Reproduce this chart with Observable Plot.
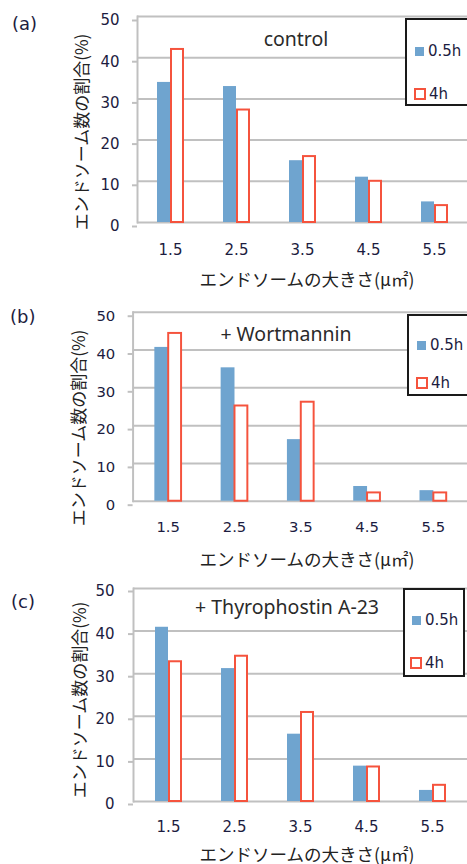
<!DOCTYPE html>
<html>
<head>
<meta charset="utf-8">
<script src="https://cdn.jsdelivr.net/npm/d3@7"></script>
<script src="https://cdn.jsdelivr.net/npm/@observablehq/plot@0.6"></script>
<style>
  html, body { margin: 0; padding: 0; background: #fff; }
  body { width: 467px; height: 864px; overflow: hidden; position: relative; }
  .panel { position: absolute; left: 0; width: 467px; overflow: hidden; }
  .panel svg { position: absolute; left: 0; top: 0; }
  .abs { position: absolute; white-space: nowrap; }
  .plabel { font-family: "DejaVu Sans", sans-serif; font-size: 18px; color: #1c1c40; transform: translateY(-50%); }
  .ylab { font-family: "Noto Sans CJK JP", sans-serif; font-size: 17px; color: #222; transform: translate(-50%, -50%) rotate(-90deg); }
  .xlab { font-family: "Noto Sans CJK JP", sans-serif; font-size: 17.5px; color: #222; transform: translate(-50%, -50%); }
  .title { font-family: "Noto Sans", sans-serif; font-weight: 400; font-size: 19.5px; color: #2a2a2a; transform: translate(-50%, -50%); }
  .legend { border: 2px solid #1a1a1a; background: #fff; box-sizing: border-box; }
  .legend .item { position: absolute; font-family: "DejaVu Sans", sans-serif; font-size: 15px; color: #1c1c40; display: flex; align-items: center; }
  .sw-blue { display: inline-block; width: 9px; height: 9px; background: #6fa4cf; margin-right: 4px; }
  .sw-red { display: inline-block; width: 8px; height: 8px; border: 2px solid #f5533d; background: #fff; margin-right: 3px; }
  g[aria-label="y-axis tick"] { stroke: #c0c0c0; stroke-width: 2px; }
</style>
</head>
<body>
<script>
// ---- data ----
const sizes = ["1.5", "2.5", "3.5", "4.5", "5.5"];
const seriesNames = ["0.5h", "4h"];
const yTicks = [0, 10, 20, 30, 40, 50];
const panelLabels = ["(a)", "(b)", "(c)"];
const panelTitles = ["control", "+ Wortmannin", "+ Thyrophostin A-23"];
const xTitle = "エンドソームの大きさ(μ㎡)";
const yTitle = "エンドソーム数の割合(%)";
const controlHalf = [34, 33, 15, 11, 5];
const controlFour = [42, 27.3, 16, 10, 4.1];
const wortHalf = [40.7, 35.3, 16.3, 3.9, 2.8];
const wortFour = [44.4, 25.2, 26.2, 2.2, 2.2];
const thyroHalf = [40.9, 31.2, 15.8, 8.3, 2.6];
const thyroFour = [32.8, 34.1, 20.9, 8.1, 3.8];

const blue = "#6fa4cf";
const red = "#f5533d";

// ---- layout per panel ----
const panels = [
  { half: controlHalf, four: controlFour, top: 0, height: 290, mt: 16, mb: 68, ml: 137, width: 467,
    tickPadX: 22, tickPadY: 13, dyY: 4,
    label: [12, 23], ylab: [80, 132], xlab: [307, 278], title: [296, 38],
    legend: { left: 405, top: 18, width: 70, height: 88, i1: [8, 22], i2: [7, 65] } },
  { half: wortHalf, four: wortFour, top: 290, height: 285, mt: 22, mb: 72, ml: 134, width: 472,
    tickPadX: 20, tickPadY: 13, dyY: 4,
    label: [10, 26], ylab: [77, 138], xlab: [307, 268], title: [286, 43],
    legend: { left: 407, top: 24, width: 70, height: 82, i1: [8, 20], i2: [7, 58] } },
  { half: thyroHalf, four: thyroFour, top: 575, height: 289, mt: 13, mb: 63, ml: 133, width: 467,
    tickPadX: 20, tickPadY: 14, dyY: 3,
    label: [11, 26], ylab: [78, 125], xlab: [307, 278], title: [287, 31],
    legend: { left: 403, top: 13, width: 62, height: 89, i1: [7, 21], i2: [5, 64] } }
];

panels.forEach((p, k) => {
  const rows = [];
  sizes.forEach((s, i) => {
    rows.push({ size: s, series: seriesNames[0], value: p.half[i] });
    rows.push({ size: s, series: seriesNames[1], value: p.four[i] });
  });

  const div = document.createElement("div");
  div.className = "panel";
  div.style.top = p.top + "px";
  div.style.height = p.height + "px";
  document.body.appendChild(div);

  const chart = Plot.plot({
    width: p.width,
    height: p.height,
    marginTop: p.mt,
    marginBottom: p.mb,
    marginLeft: p.ml,
    marginRight: 0,
    style: { fontFamily: "DejaVu Sans, sans-serif", background: "transparent", overflow: "visible" },
    x: { domain: sizes, padding: 0, axis: null, label: null },
    y: { domain: [0, 50], axis: null, label: null },
    marks: [
      Plot.gridY(yTicks, { stroke: "#c0c0c0", strokeOpacity: 1, strokeWidth: 2 }),
      Plot.frame({ anchor: "left", stroke: "#c0c0c0", strokeWidth: 2 }),
      Plot.axisY(yTicks, { label: null, tickSize: 5, tickPadding: p.tickPadY, dy: p.dyY, fontSize: 15, fill: "#1c1c40", tickFormat: d => String(d) }),
      Plot.axisX({ label: null, tickSize: 0, tickPadding: p.tickPadX, fontSize: 15, fill: "#1c1c40" }),
      Plot.barY(rows.filter(d => d.series === seriesNames[0]), { x: "size", y: "value", fill: blue, insetLeft: 20, insetRight: 33 }),
      Plot.barY(rows.filter(d => d.series === seriesNames[1]), { x: "size", y: "value", fill: "#fff", stroke: red, strokeWidth: 2, insetLeft: 34, insetRight: 20 })
    ]
  });
  div.appendChild(chart);

  const add = (cls, text, x, y) => {
    const e = document.createElement("div");
    e.className = "abs " + cls;
    e.textContent = text;
    e.style.left = x + "px";
    e.style.top = y + "px";
    div.appendChild(e);
    return e;
  };
  add("plabel", panelLabels[k], p.label[0], p.label[1]);
  add("ylab", yTitle, p.ylab[0], p.ylab[1]);
  add("xlab", xTitle, p.xlab[0], p.xlab[1]);
  add("title", panelTitles[k], p.title[0], p.title[1]);

  const lg = document.createElement("div");
  lg.className = "abs legend";
  Object.assign(lg.style, { left: p.legend.left + "px", top: p.legend.top + "px", width: p.legend.width + "px", height: p.legend.height + "px" });
  const it1 = document.createElement("div");
  it1.className = "item";
  it1.style.left = p.legend.i1[0] + "px"; it1.style.top = p.legend.i1[1] + "px";
  it1.innerHTML = '<span class="sw-blue"></span>';
  it1.appendChild(document.createTextNode(seriesNames[0]));
  const it2 = document.createElement("div");
  it2.className = "item";
  it2.style.left = p.legend.i2[0] + "px"; it2.style.top = p.legend.i2[1] + "px";
  it2.innerHTML = '<span class="sw-red"></span>';
  it2.appendChild(document.createTextNode(seriesNames[1]));
  lg.appendChild(it1); lg.appendChild(it2);
  div.appendChild(lg);
});
</script>
</body>
</html>
